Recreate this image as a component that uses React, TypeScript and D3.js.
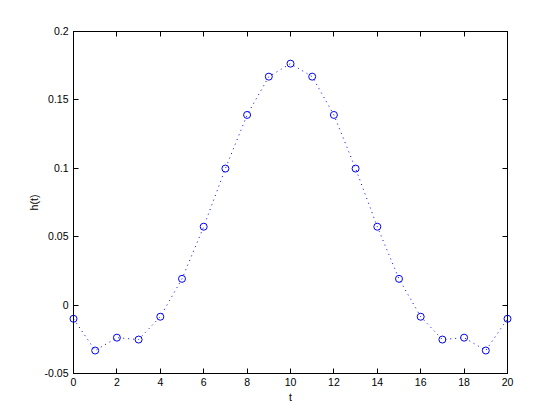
import React from "react";
import * as d3 from "d3";

const tValues = [0, 1, 2, 3, 4, 5, 6, 7, 8, 9, 10, 11, 12, 13, 14, 15, 16, 17, 18, 19, 20];
const hValues = [-0.01, -0.0332, -0.0238, -0.0252, -0.0085, 0.0192, 0.0573, 0.0998, 0.139, 0.167, 0.1765, 0.167, 0.139, 0.0998, 0.0573, 0.0192, -0.0085, -0.0252, -0.0238, -0.0332, -0.01];
const xTicks = [0, 2, 4, 6, 8, 10, 12, 14, 16, 18, 20];
const yTicks = [-0.05, 0, 0.05, 0.1, 0.15, 0.2];
const yTickLabels = ["-0.05", "0", "0.05", "0.1", "0.15", "0.2"];

export default function App() {
  const W = 560, H = 420;
  const left = 73.5, right = 507.5, top = 31.5, bottom = 373.5;
  const x = d3.scaleLinear().domain([0, 20]).range([left, right]);
  const y = d3.scaleLinear().domain([-0.05, 0.2]).range([bottom, top]);
  const line = d3.line<number>().x((_, i) => x(tValues[i])).y((d) => y(d));
  const font = "'Liberation Sans', Arial, sans-serif";
  const tl = 5;
  const px = (v: number) => Math.round(v - 0.5) + 0.5;
  return (
    <svg width={W} height={H} style={{ position: "absolute", left: 0, top: 0, background: "#fff" }}>
      <rect x={0} y={0} width={W} height={H} fill="#fff" />
      <path d={line(hValues) || ""} fill="none" stroke="#0000ff" strokeWidth={1} strokeDasharray="1,4" />
      {hValues.map((v, i) => (
        <circle key={i} cx={x(tValues[i])} cy={y(v)} r={3.5} fill="none" stroke="#0000ff" strokeWidth={1} />
      ))}
      <rect x={left} y={top} width={right - left} height={bottom - top} fill="none" stroke="#000" strokeWidth={1} />
      {xTicks.map((t) => (
        <g key={"x" + t}>
          <line x1={px(x(t))} x2={px(x(t))} y1={bottom} y2={bottom - tl} stroke="#000" />
          <line x1={px(x(t))} x2={px(x(t))} y1={top} y2={top + tl} stroke="#000" />
          <text x={x(t)} y={bottom + 12} fontSize={10.5} fontFamily={font} textAnchor="middle">{t}</text>
        </g>
      ))}
      {yTicks.map((v, i) => (
        <g key={"y" + i}>
          <line x1={left} x2={left + tl} y1={px(y(v))} y2={px(y(v))} stroke="#000" />
          <line x1={right} x2={right - tl} y1={px(y(v))} y2={px(y(v))} stroke="#000" />
          <text x={left - 5} y={y(v) + 3.5} fontSize={10.5} fontFamily={font} textAnchor="end">{yTickLabels[i]}</text>
        </g>
      ))}
      <text x={(left + right) / 2} y={401} fontSize={10.5} fontFamily={font} textAnchor="middle">t</text>
      <text transform={`translate(38,${(top + bottom) / 2}) rotate(-90)`} fontSize={10.5} fontFamily={font} textAnchor="middle">h(t)</text>
    </svg>
  );
}
